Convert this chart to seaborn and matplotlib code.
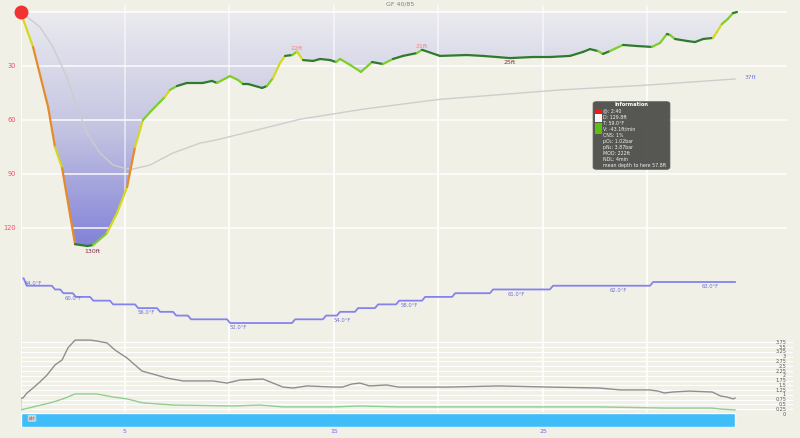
import matplotlib
matplotlib.use("Agg")
import matplotlib.pyplot as plt
import matplotlib.transforms as mtransforms
import numpy as np
import pandas as pd
import seaborn as sns
from matplotlib.collections import LineCollection
from matplotlib.colors import LinearSegmentedColormap
from matplotlib.patches import FancyBboxPatch, Rectangle

# ==== Data read off the dive log ==== #
# depth profile (minutes, feet)
prof_min = [0.0, 0.31, 0.6, 1.32, 1.65, 1.99, 2.61, 3.2, 3.47, 4.14, 4.62, 5.1, 5.48,
            5.86, 6.2, 6.67, 6.91, 7.15, 7.49, 7.97, 8.73, 9.16, 9.4, 10.02, 10.41,
            10.65, 10.89, 11.56, 11.79, 12.08, 12.42, 12.66, 13.0, 13.23, 13.52, 14.0,
            14.33, 14.81, 15.1, 15.29, 15.77, 16.29, 16.82, 17.34, 17.82, 18.3, 18.97,
            19.21, 20.07, 21.36, 22.13, 23.42, 24.52, 25.33, 26.29, 26.91, 27.25,
            27.63, 27.87, 28.2, 28.83, 29.5, 30.21, 30.6, 30.93, 31.08, 31.32, 31.89,
            32.27, 32.66, 33.13, 33.32, 33.56, 33.84, 34.09, 34.28]
prof_ft = [0, 10, 19.4, 52.8, 75, 86.7, 129, 130, 129.5, 122.8, 111.7, 97.2, 75,
           60, 55.6, 50, 47.2, 43.3, 41.1, 39.4, 39.4, 38.3, 39.4, 35.6, 37.8,
           40, 40, 42.2, 41.1, 36.7, 28.3, 24.4, 23.9, 22, 26.7, 27.2,
           26.1, 26.7, 27.8, 26.1, 29.4, 33.3, 27.8, 28.9, 26.1, 24.4, 22.8,
           21, 24.4, 23.9, 24.4, 25.6, 25, 25, 24.4, 22.2, 20.6,
           21.7, 23.3, 21.7, 18.3, 18.9, 19.4, 17.2, 12.2, 12.8, 15, 16.1,
           16.7, 15, 14.4, 11.1, 6.7, 3.9, 0.6, 0]

# mean depth so far
mean_min = [0, 0.2, 0.93, 1.55, 2.22, 2.7, 3.18, 3.8, 4.43, 5.1, 5.4, 6.2, 7.3, 8.6,
            9.4, 11.5, 13.4, 16.5, 20.0, 25.8, 30.0, 34.2]
mean_ft = [0, 1.7, 8.3, 19.4, 36.1, 52.8, 67.2, 78.3, 85, 87.2, 87.2, 85, 78.3, 72.8,
           71, 65, 59.5, 53.8, 48.6, 43.3, 40.6, 37.2]

# small depth markers
marker_min = [23.42, 13.23, 19.21]
marker_ft = [25, 22, 21]
marker_kind = ["below", "above", "above"]

# temperature steps (minute the change starts, new value in F)
temp_step_min = [0.13, 0.15, 1.5, 1.9, 2.5, 3.33, 4.28, 5.48, 6.53, 7.3, 8.01, 9.88,
                 12.99, 14.47, 15.14, 16.0, 16.96, 17.97, 19.21, 20.65, 22.46, 25.33, 30.12]
temp_step_f = [64, 62, 61, 60, 59, 58, 57, 56, 55, 54, 53, 52,
               53, 54, 55, 56, 57, 58, 59, 60, 61, 62, 63]
temp_end_min = 34.2
temp_lab_min = [0.22, 2.1, 5.6, 10.0, 15.0, 18.2, 23.3, 28.2, 32.6]
temp_lab_f = [64, 60, 56, 52, 54, 58, 61, 62, 63]

# partial pressures (bar)
pn2_min = [0, 0.01, 0.12, 0.31, 0.6, 0.93, 1.27, 1.65, 1.99, 2.27, 2.61, 3.33, 3.66,
           4.14, 4.52, 5.1, 5.81, 6.34, 7.01, 7.78, 9.21, 9.88, 10.5, 11.6, 12.08,
           12.56, 13.04, 13.71, 14.95, 15.4, 15.86, 16.24, 16.7, 17.5, 18.1, 20.5,
           22.9, 25.3, 27.7, 28.7, 30.1, 30.5, 30.8, 31.2, 32.0, 33.1, 33.5, 33.8,
           34.1, 34.2]
pn2_bar = [0.21, 0.84, 0.84, 1.10, 1.36, 1.68, 2.04, 2.57, 2.83, 3.46, 3.87, 3.87, 3.82,
           3.72, 3.35, 2.93, 2.25, 2.09, 1.88, 1.73, 1.73, 1.62, 1.78, 1.83, 1.62,
           1.41, 1.36, 1.47, 1.41, 1.41, 1.57, 1.62, 1.47, 1.52, 1.41, 1.41,
           1.47, 1.41, 1.36, 1.26, 1.26, 1.2, 1.1, 1.15, 1.2, 1.15, 0.94, 0.89,
           0.79, 0.84]
po2_min = [0, 0.6, 1.41, 2.03, 2.61, 3.66, 4.43, 5.1, 5.86, 7.3, 10.17, 11.46, 12.56,
           14.95, 16.24, 18.16, 27.7, 30.9, 33.1, 33.5, 34.2]
po2_bar = [0.21, 0.37, 0.58, 0.79, 1.05, 1.05, 0.89, 0.79, 0.58, 0.47, 0.42, 0.47, 0.37,
           0.37, 0.42, 0.37, 0.37, 0.31, 0.31, 0.26, 0.21]
press_ticks = [0, 0.25, 0.5, 0.75, 1, 1.25, 1.5, 1.75, 2, 2.25, 2.5, 2.75, 3, 3.25, 3.5, 3.75]

gas_name = "air"
gas_end_min = 34.2
x_ticks = [5, 15, 25]
depth_ticks = [30, 60, 90, 120]

info_title = "Information"
info_lines = ["@: 2:40", "D: 129.8ft", "T: 59.0°F", "V: -43.1ft/min", "CNS: 1%",
              "pO₂: 1.02bar", "pN₂: 3.87bar", "MOD: 222ft", "NDL: 4min",
              "mean depth to here 57.8ft"]

# ==== Layout helpers ==== #
W, H = 800, 438
BG = "#f1f0e6"
X0, PXMIN = 20.5, 20.9   # pixel of minute 0, pixels per minute


def box(x0, y0, x1, y1):
    return [x0 / W, 1 - y1 / H, (x1 - x0) / W, (y1 - y0) / H]


def tmax(xr):
    return (xr - X0) / PXMIN


sns.set_style("white")
fig = plt.figure(figsize=(8, 4.38), dpi=100, facecolor=BG)

# background grid (vertical lines through all panels)
ax_bg = fig.add_axes(box(X0, 12, 787, 412))
ax_bg.set_xlim(0, tmax(787))
ax_bg.set_ylim(0, 1)
ax_bg.axis("off")
for t in range(0, 31, 5):
    ax_bg.axvline(t, color="white", lw=1.2)

# ==== Depth profile ==== #
ax = fig.add_axes(box(X0, 5, 787, 262))
ax.patch.set_alpha(0)
xl = (0, tmax(787))
yl = ((262 - 12) / 1.8, (5 - 12) / 1.8)

cmap = LinearSegmentedColormap.from_list("depth", ["#ebebef", "#c4c4e2", "#8282d8"])
grad = np.linspace(0, 1, 256).reshape(-1, 1)
im = ax.imshow(grad, extent=[0, max(prof_min), max(prof_ft), 0], aspect="auto",
               cmap=cmap, origin="upper", zorder=1)
poly = ax.fill_between(prof_min, 0, prof_ft, facecolor="none", edgecolor="none")
im.set_clip_path(poly.get_paths()[0], transform=ax.transData)

for d in [0] + depth_ticks:
    ax.axhline(d, color="white", lw=1.3, alpha=0.8, zorder=2)
for t in range(0, 31, 5):
    ax.axvline(t, color="white", lw=1.2, alpha=0.6, zorder=2)

sns.lineplot(x=mean_min, y=mean_ft, color="#cdcdcd", lw=1.0, ax=ax, zorder=2.5,
             legend=False, estimator=None)

# profile coloured by vertical speed
pts = np.column_stack([prof_min, prof_ft])
segs = np.stack([pts[:-1], pts[1:]], axis=1)
speed = np.abs(np.diff(prof_ft)) / np.diff(prof_min)
seg_col = np.where(speed < 5, "#2f7a2f",
          np.where(speed < 16, "#7ccf2a",
          np.where(speed < 40, "#d5d820", "#e58c2a")))
ax.add_collection(LineCollection(segs, colors=seg_col, lw=1.6, capstyle="round",
                                 joinstyle="round", zorder=3))
ax.plot(0, 0, "o", ms=9, color="#f03232", clip_on=False, zorder=5)

i_max = int(np.argmax(prof_ft))
ax.text(prof_min[i_max] + 0.25, prof_ft[i_max] + 1.5, f"{prof_ft[i_max]:.0f}ft",
        ha="center", va="top", fontsize=4.5, color="#8a2c4a", zorder=4)
for t, d, kind in zip(marker_min, marker_ft, marker_kind):
    if kind == "below":
        ax.text(t, d + 1.8, f"{d:.0f}ft", ha="center", va="top", fontsize=4.5,
                color="#8a2c4a", zorder=4)
    else:
        ax.text(t, d - 0.6, f"{d:.0f}ft", ha="center", va="bottom", fontsize=4.5,
                color="#ff7c86", zorder=4)
ax.text(mean_min[-1] + 0.45, mean_ft[-1] - 1, f"{mean_ft[-1]:.0f}ft", ha="left",
        va="center", fontsize=4.2, color="#7474e6")

ax.set_xlim(*xl)
ax.set_ylim(*yl)
ax.set_xticks([])
ax.set_yticks(depth_ticks)
ax.set_yticklabels([str(v) for v in depth_ticks], fontsize=4.8, color="#f4506a")
ax.tick_params(axis="y", length=0, pad=3)
ax.set_xlabel("")
ax.set_ylabel("")
sns.despine(ax=ax, left=True, bottom=True)

# ==== Temperature ==== #
RAMP = 0.15
tx, ty = [temp_step_min[0]], [temp_step_f[0]]
for i in range(1, len(temp_step_min)):
    tx += [temp_step_min[i], temp_step_min[i] + RAMP]
    ty += [temp_step_f[i - 1], temp_step_f[i]]
tx.append(temp_end_min)
ty.append(temp_step_f[-1])
temp_df = pd.DataFrame({"min": tx, "F": ty})

ax_t = fig.add_axes(box(X0, 270, 787, 335))
ax_t.patch.set_alpha(0)
sns.lineplot(data=temp_df, x="min", y="F", color="#8383f0", lw=1.3, ax=ax_t,
             estimator=None, sort=False, legend=False)
for t, v in zip(temp_lab_min, temp_lab_f):
    ax_t.text(t, v - 1.3, f"{v:.1f}°F", ha="left", va="center", fontsize=3.8,
              color="#7070dc")
ax_t.set_xlim(0, tmax(787))
ax_t.set_ylim(63 - (335 - 282) / 3.73, 63 + (282 - 270) / 3.73)
ax_t.axis("off")

# ==== Partial pressures ==== #
ax_p = fig.add_axes(box(X0, 336, 793, 414))
ax_p.patch.set_alpha(0)
for v in press_ticks:
    ax_p.axhline(v, color="white", lw=0.9, zorder=0)
lab_tr = mtransforms.blended_transform_factory(ax_p.transAxes, ax_p.transData)
for v in press_ticks:
    ax_p.text(0.991, v, f"{v:g}", transform=lab_tr, ha="right", va="center",
              fontsize=3.5, color="#555555")
sns.lineplot(x=pn2_min, y=pn2_bar, color="#8e8e8e", lw=1.0, ax=ax_p,
             estimator=None, sort=False, legend=False)
sns.lineplot(x=po2_min, y=po2_bar, color="#8fcf8f", lw=1.0, ax=ax_p,
             estimator=None, sort=False, legend=False)
ax_p.set_xlim(0, tmax(793))
ax_p.set_ylim(0, (414 - 336) / 19.1)
ax_p.axis("off")

# ==== Gas bar + time axis ==== #
ax_b = fig.add_axes(box(X0, 413, 793, 427))
ax_b.patch.set_alpha(0)
ax_b.barh(0.5, gas_end_min, height=1, left=0, color="#3fbdf9")
ax_b.text(0.55, 0.62, gas_name, fontsize=3.5, color="#555555", ha="center", va="center",
          bbox=dict(boxstyle="round,pad=0.2", fc="#d0d0d0", ec="none"))
ax_b.set_xlim(0, tmax(793))
ax_b.set_ylim(0, 1)
ax_b.set_yticks([])
ax_b.set_xticks(x_ticks)
ax_b.set_xticklabels([str(v) for v in x_ticks], fontsize=4.5, color="#6a6aff")
ax_b.tick_params(axis="x", length=0, pad=1.5)
sns.despine(ax=ax_b, left=True, bottom=True)

# ==== Title and info box ==== #
fig.text(0.5, 1 - 4.5 / H, "GF 40/85", ha="center", va="center", fontsize=4.5,
         color="#808080")

fig.add_artist(FancyBboxPatch((593 / W, 1 - 169.5 / H), 77 / W, 68 / H,
                              boxstyle="round,pad=0,rounding_size=0.005",
                              transform=fig.transFigure, fc="#4e4e4a", ec="#6a6a66",
                              lw=0.5, alpha=0.95))
fig.text(631.5 / W, 1 - 104.3 / H, info_title, ha="center", va="center", fontsize=3.7,
         weight="bold", color="white")
for i, line in enumerate(info_lines):
    fig.text(603 / W, 1 - (111 + 6.06 * i) / H, line, ha="left", va="center",
             fontsize=3.45, color="#f0f0f0")
for (y0, y1, c) in [(108.5, 113, "#ff1212"), (113.5, 117.5, "#f8f8f8"),
                    (118, 122.3, "#f8f8f8"), (123, 134, "#5fc012")]:
    fig.add_artist(Rectangle((595 / W, 1 - y1 / H), 7 / W, (y1 - y0) / H,
                             transform=fig.transFigure, fc=c, ec="none"))

fig.savefig("out.png", dpi=100, facecolor=BG)
